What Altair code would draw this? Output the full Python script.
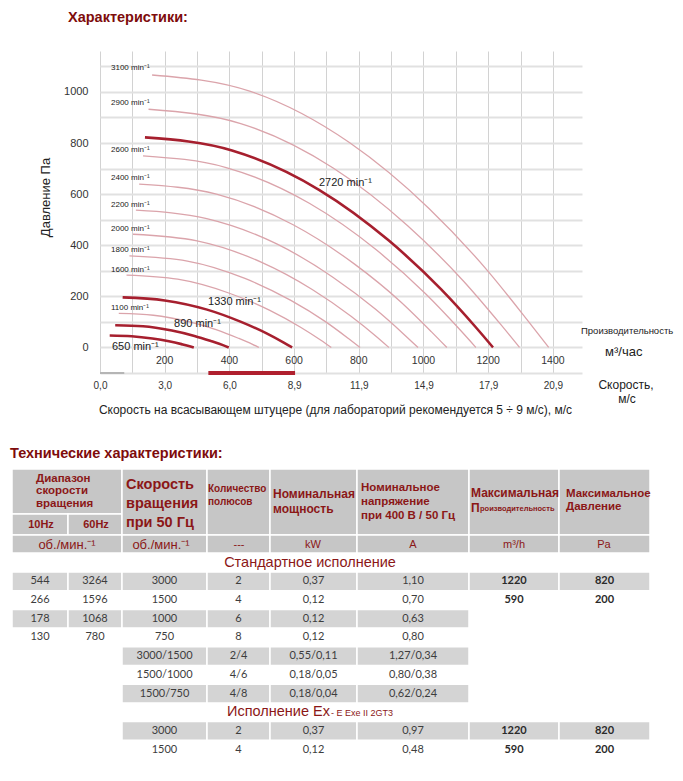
import altair as alt
import pandas as pd

# ---------------- fan curve data (flow m3/h, pressure Pa) ----------------
speeds = [650, 890, 1100, 1330, 1600, 1800, 2000, 2200, 2400, 2600, 2720, 2900, 3100]
highlight = [650, 890, 1330, 2720]
curve_flow = [
    [30, 98, 162, 213, 252, 277, 290],
    [47, 133, 222, 292, 345, 380, 398],
    [58, 165, 274, 361, 426, 470, 491],
    [70, 200, 331, 436, 515, 568, 594],
    [82, 240, 398, 525, 620, 683, 715],
    [91, 270, 448, 590, 698, 768, 804],
    [102, 300, 498, 656, 775, 854, 893],
    [111, 330, 548, 721, 852, 939, 983],
    [121, 360, 597, 787, 930, 1024, 1072],
    [133, 390, 647, 853, 1008, 1110, 1162],
    [139, 408, 677, 892, 1054, 1161, 1215],
    [150, 435, 722, 951, 1124, 1238, 1297],
    [161, 465, 772, 1017, 1201, 1323, 1387],
]
curve_press = [
    [47, 44, 35, 24, 13, 5, 0],
    [87, 83, 66, 45, 24, 9, 0],
    [133, 126, 101, 69, 37, 13, 0],
    [196, 184, 148, 100, 55, 19, 0],
    [283, 267, 213, 145, 79, 28, 0],
    [358, 338, 270, 184, 100, 35, 0],
    [443, 417, 334, 227, 123, 43, 0],
    [537, 504, 404, 274, 149, 52, 0],
    [639, 600, 480, 326, 178, 62, 0],
    [750, 704, 564, 383, 208, 73, 0],
    [822, 771, 617, 419, 228, 80, 0],
    [932, 876, 701, 476, 259, 91, 0],
    [1066, 1002, 801, 544, 296, 104, 0],
]

small_label_speeds = [3100, 2900, 2600, 2400, 2200, 2000, 1800, 1600, 1100]
small_label_flow = [34, 34, 34, 34, 34, 34, 34, 34, 34]
small_label_press = [1092, 955, 771, 665, 556, 462, 380, 305, 153]

big_label_speeds = [2720, 1330, 890, 650]
big_label_flow = [677, 334, 229, 37]
big_label_press = [644, 178, 92, 2]

flow_ticks = [200, 400, 600, 800, 1000, 1200, 1400]
flow_tick_level = -52
velocity_flow = [0, 200, 400, 600, 800, 1000, 1200, 1400]
velocity_labels = ["0,0", "3,0", "6,0", "8,9", "11,9", "14,9", "17,9", "20,9"]
recommended_flow = [335, 603]
low_flow_segment = [0, 75]

# ---------------- table data ----------------
col_edges = [12, 68, 122, 207, 270, 357, 469, 559, 650]
std_rows = [
    ["544", "3264", "3000", "2", "0,37", "1,10", "1220", "820"],
    ["266", "1596", "1500", "4", "0,12", "0,70", "590", "200"],
    ["178", "1068", "1000", "6", "0,12", "0,63", "", ""],
    ["130", "780", "750", "8", "0,12", "0,80", "", ""],
    ["", "", "3000/1500", "2/4", "0,55/0,11", "1,27/0,34", "", ""],
    ["", "", "1500/1000", "4/6", "0,18/0,05", "0,80/0,38", "", ""],
    ["", "", "1500/750", "4/8", "0,18/0,04", "0,62/0,24", "", ""],
]
std_shade = [(0, 8), None, (0, 6), None, (2, 6), None, (2, 6)]
ex_rows = [
    ["", "", "3000", "2", "0,37", "0,97", "1220", "820"],
    ["", "", "1500", "4", "0,12", "0,48", "590", "200"],
]
ex_shade = [(2, 8), None]
std_top, ex_top, row_pitch = 571, 720.6, 18.7
bold_cols = [6, 7]

header_cells = [(0, 2, 468, 513), (0, 1, 513, 534), (1, 2, 513, 534)] + \
    [(c, c + 1, 468, 534) for c in range(2, 8)] + \
    [(0, 2, 534, 552)] + [(c, c + 1, 534, 552) for c in range(2, 8)]

DARK = "#a61f2e"
LIGHT = "#dba4ab"
RED_TXT = "#8b1717"
FONT = "Liberation Sans"
NUMFONT = "Lato"

# ---------------- curves ----------------
rows = []
for s, qs, ps in zip(speeds, curve_flow, curve_press):
    for i, (q, p) in enumerate(zip(qs, ps)):
        rows.append({"speed": s, "order": i, "q": q, "p": p})
curves = pd.DataFrame(rows)
light = curves[~curves.speed.isin(highlight)]
dark = curves[curves.speed.isin(highlight)]

xs = alt.Scale(domain=[0, 1490], nice=False, zero=False)
ys = alt.Scale(domain=[-100, 1160], nice=False, zero=False)

vel_expr = " : ".join(f"datum.value == {v} ? '{l}'" for v, l in zip(velocity_flow, velocity_labels)) + " : ''"

x_axis = alt.Axis(
    orient="bottom", values=list(range(0, 1401, 100)), grid=True, gridColor="#d2d2d2", gridWidth=1,
    domain=False, ticks=False, labelExpr=vel_expr, labelFont=FONT, labelFontSize=10, labelColor="#333",
    labelPadding=7, labelFlush=False, labelOverlap=False,
    title="Скорость на всасывающем штуцере (для лабораторий рекомендуется 5 ÷ 9 м/с), м/с",
    titleFont=FONT, titleFontSize=12, titleFontWeight="normal", titleColor="#222",
    titleX=235, titleY=36, titleBaseline="middle", titleAlign="center")
y_axis = alt.Axis(
    orient="left", values=list(range(-100, 1101, 100)), grid=True, gridColor="#e1e1e1", gridWidth=2,
    domain=False, ticks=False, format="d",
    labelExpr="datum.value >= 0 && datum.value % 200 == 0 ? datum.label : ''",
    labelFont=FONT, labelFontSize=11, labelColor="#333", labelPadding=12, labelFlush=False, labelOverlap=False,
    title="Давление Па", titleFont=FONT, titleFontSize=13, titleFontWeight="normal", titleColor="#222",
    titleX=-55, titleY=146, titleAngle=-90, titleBaseline="middle", titleAlign="center")

light_chart = alt.Chart(light).mark_line(interpolate="monotone", color=LIGHT, strokeWidth=1.3).encode(
    x=alt.X("q:Q", scale=xs, axis=x_axis), y=alt.Y("p:Q", scale=ys, axis=y_axis),
    detail="speed:N", order="order:Q")
dark_chart = alt.Chart(dark).mark_line(interpolate="monotone", color=DARK, strokeWidth=2.6).encode(
    x=alt.X("q:Q", scale=xs, axis=None), y=alt.Y("p:Q", scale=ys, axis=None),
    detail="speed:N", order="order:Q")

bar_df = pd.DataFrame({"q0": [low_flow_segment[0], recommended_flow[0]],
                       "q1": [low_flow_segment[1], recommended_flow[1]],
                       "p": [-100, -100], "kind": ["low", "rec"]})
bars = alt.Chart(bar_df).mark_rule().encode(
    x=alt.X("q0:Q", scale=xs, axis=None), x2="q1:Q", y=alt.Y("p:Q", scale=ys, axis=None),
    color=alt.Color("kind:N", scale=alt.Scale(domain=["low", "rec"], range=["#b5b5b5", "#b0202e"]), legend=None),
    strokeWidth=alt.StrokeWidth("kind:N", scale=alt.Scale(domain=["low", "rec"], range=[2, 4]), legend=None))

small_df = pd.DataFrame({"q": small_label_flow, "p": small_label_press,
                         "t": [f"{s} min⁻¹" for s in small_label_speeds]})
small_labels = alt.Chart(small_df).mark_text(align="left", baseline="middle", font=FONT, fontSize=8,
                                             color="#222").encode(
    x=alt.X("q:Q", scale=xs, axis=None), y=alt.Y("p:Q", scale=ys, axis=None), text="t:N")
big_df = pd.DataFrame({"q": big_label_flow, "p": big_label_press,
                       "t": [f"{s} min⁻¹" for s in big_label_speeds]})
big_labels = alt.Chart(big_df).mark_text(align="left", baseline="middle", font=FONT, fontSize=11,
                                         color="#222").encode(
    x=alt.X("q:Q", scale=xs, axis=None), y=alt.Y("p:Q", scale=ys, axis=None), text="t:N")
tick_df = pd.DataFrame({"q": flow_ticks, "p": [flow_tick_level] * len(flow_ticks),
                        "t": [str(v) for v in flow_ticks]})
tick_labels = alt.Chart(tick_df).mark_text(align="center", baseline="middle", font=FONT, fontSize=10.5,
                                           color="#333").encode(
    x=alt.X("q:Q", scale=xs, axis=None), y=alt.Y("p:Q", scale=ys, axis=None), text="t:N")

# ---------------- page-coordinate layer (annotations & table) ----------------
px = alt.Scale(domain=[100, 582], nice=False, zero=False)
py = alt.Scale(domain=[50, 372], nice=False, zero=False, reverse=True)


def page_text(items, **kw):
    df = pd.DataFrame(items, columns=["t", "x", "y"])
    base = dict(baseline="middle", font=FONT)
    base.update(kw)
    return alt.Chart(df).mark_text(**base).encode(
        x=alt.X("x:Q", scale=px, axis=None), y=alt.Y("y:Q", scale=py, axis=None), text="t:N")


rect_rows = []
for c0, c1, y0, y1 in header_cells:
    rect_rows.append({"x0": col_edges[c0], "x1": col_edges[c1], "y0": y0, "y1": y1, "fill": "#c6c6c6"})
for top, shades in ((std_top, std_shade), (ex_top, ex_shade)):
    for i, sh in enumerate(shades):
        if sh is None:
            continue
        for c in range(sh[0], sh[1]):
            rect_rows.append({"x0": col_edges[c], "x1": col_edges[c + 1], "y0": top + i * row_pitch,
                              "y1": top + (i + 1) * row_pitch, "fill": "#d4d4d4"})
rects = alt.Chart(pd.DataFrame(rect_rows)).mark_rect(stroke="white", strokeWidth=1.5).encode(
    x=alt.X("x0:Q", scale=px, axis=None), x2="x1:Q",
    y=alt.Y("y0:Q", scale=py, axis=None), y2="y1:Q",
    color=alt.Color("fill:N", scale=None))

norm_cells, bold_cells = [], []
for top, table in ((std_top, std_rows), (ex_top, ex_rows)):
    for i, row in enumerate(table):
        for c, val in enumerate(row):
            if not val:
                continue
            item = (val, (col_edges[c] + col_edges[c + 1]) / 2, top + (i + 0.5) * row_pitch)
            (bold_cells if c in bold_cols else norm_cells).append(item)

layers_page = [
    rects,
    page_text(norm_cells, align="center", font=NUMFONT, fontSize=11, color="#3d3d3d"),
    page_text(bold_cells, align="center", font=NUMFONT, fontSize=11, fontWeight="bold", color="#2a2a2a"),
    # titles
    page_text([("Характеристики:", 68, 10)], align="left", baseline="top", fontSize=14.5,
              fontWeight="bold", color="#7e0c0c"),
    page_text([("Технические характеристики:", 10, 453)], align="left", fontSize=14.5,
              fontWeight="bold", color="#7e0c0c"),
    # right side annotations
    page_text([("Производительность", 581, 330)], align="left", fontSize=9.5, color="#222"),
    page_text([("м³/час", 605, 351)], align="left", fontSize=13, color="#222"),
    page_text([("Скорость,", 626, 384), ("м/с", 627, 398)], align="center", fontSize=12, color="#222"),
    # header texts
    page_text([("Диапазон", 36, 478), ("скорости", 36, 490), ("вращения", 36, 503)],
              align="left", fontSize=11.5, fontWeight="bold", color=RED_TXT),
    page_text([("10Hz", 41, 524), ("60Hz", 96, 524)], align="center", fontSize=11, fontWeight="bold",
              color=RED_TXT),
    page_text([("Скорость", 126, 484), ("вращения", 126, 503), ("при 50 Гц", 126, 522)],
              align="left", fontSize=14.5, fontWeight="bold", color=RED_TXT),
    page_text([("Количество", 208, 488), ("полюсов", 208, 501)], align="left", fontSize=10,
              fontWeight="bold", color=RED_TXT),
    page_text([("Номинальная", 273, 493), ("мощность", 273, 508)], align="left", fontSize=12,
              fontWeight="bold", color=RED_TXT),
    page_text([("Номинальное", 361, 487), ("напряжение", 361, 501), ("при 400 В / 50 Гц", 361, 515)],
              align="left", fontSize=11.5, fontWeight="bold", color=RED_TXT),
    page_text([("Максимальная", 471, 492), ("П", 471, 507)], align="left", fontSize=12, fontWeight="bold",
              color=RED_TXT),
    page_text([("роизводительность", 480, 508)], align="left", fontSize=7.5, fontWeight="bold",
              color=RED_TXT),
    page_text([("Максимальное", 566, 493), ("Давление", 566, 506)], align="left", fontSize=11.5,
              fontWeight="bold", color=RED_TXT),
    page_text([("об./мин.⁻¹", 67, 544), ("об./мин.⁻¹", 161, 544)], align="center", fontSize=13,
              color=RED_TXT),
    page_text([("---", 239, 544), ("kW", 313, 544), ("A", 413, 544), ("m³/h", 514, 544), ("Pa", 604, 544)],
              align="center", fontSize=11, color=RED_TXT),
    # section titles
    page_text([("Стандартное исполнение", 310, 562)], align="center", fontSize=14.5, color=RED_TXT),
    page_text([("Исполнение Ex", 227, 711)], align="left", fontSize=14.5, color=RED_TXT),
    page_text([("- E Exe II 2GT3", 331, 712)], align="left", fontSize=9, color=RED_TXT),
]

chart = alt.layer(
    light_chart, dark_chart, bars, small_labels, big_labels, tick_labels, *layers_page
).resolve_scale(x="independent", y="independent").properties(
    width=482, height=322, padding={"left": 2, "top": 2, "right": 0, "bottom": 0}
).configure_view(stroke=None)

chart.save("out.html", embed_options={"renderer": "svg", "actions": False})
